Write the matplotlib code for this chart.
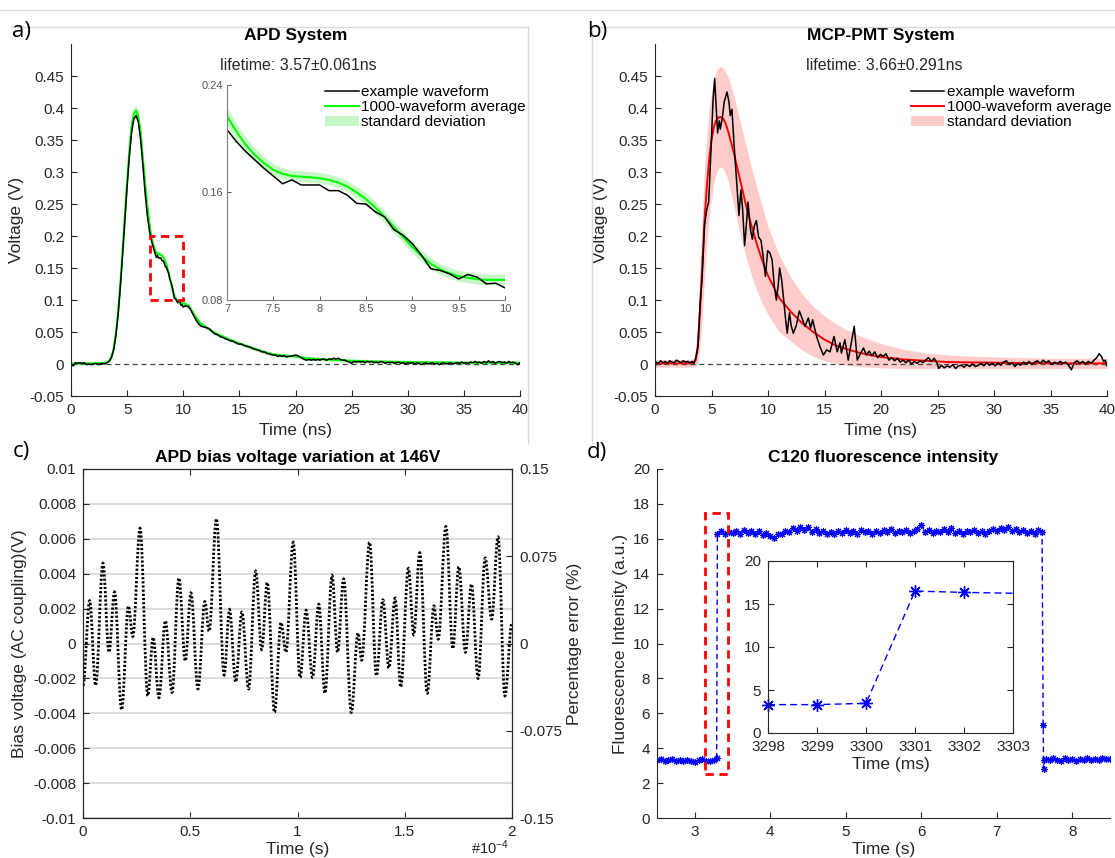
import numpy as np
import matplotlib
matplotlib.use("Agg")
import matplotlib.pyplot as plt
from matplotlib.path import Path
from matplotlib.patches import PathPatch, Rectangle, Patch
from matplotlib.lines import Line2D

#%% data

# a) APD system, example waveform (ns, V)
t_ex_a = np.round(np.concatenate([np.arange(0, 6.9, 0.2), np.arange(7.0, 10.05, 0.1), np.arange(10.2, 40.05, 0.2)]), 2)
v_ex_a = [0.000, -0.003, 0.002, 0.001, 0.002, 0.001, 0.002, -0.001, 0.000, -0.001,
          0.000, 0.001, -0.001, 0.000, 0.001, 0.000, 0.002, 0.004, 0.010, 0.022,
          0.045, 0.078, 0.122, 0.172, 0.226, 0.278, 0.325, 0.362, 0.383, 0.388,
          0.378, 0.351, 0.311, 0.268, 0.232,
          # 7.0 - 10.0
          0.2068, 0.198, 0.1906, 0.1843, 0.178, 0.1723, 0.1665, 0.1694, 0.1656, 0.1656,
          0.1656, 0.1614, 0.1614, 0.158, 0.1519, 0.1514, 0.1456, 0.1419, 0.1324, 0.1282,
          0.1219, 0.1132, 0.1032, 0.102, 0.0995, 0.0957, 0.099, 0.097, 0.092, 0.0925, 0.089,
          # 10.2 - 40.0
          0.091, 0.090, 0.087, 0.080, 0.073, 0.067, 0.062, 0.059, 0.058, 0.057,
          0.056, 0.054, 0.050, 0.047, 0.046, 0.044, 0.042, 0.041, 0.039, 0.038,
          0.036, 0.036, 0.034, 0.032, 0.031, 0.031, 0.029, 0.028, 0.027, 0.026,
          0.024, 0.023, 0.022, 0.021, 0.019, 0.019, 0.017, 0.016, 0.015, 0.014,
          0.014, 0.012, 0.013, 0.012, 0.013, 0.011, 0.012, 0.012, 0.013, 0.014,
          0.013, 0.011, 0.009, 0.007, 0.006, 0.007, 0.006, 0.007, 0.006, 0.007,
          0.006, 0.008, 0.007, 0.006, 0.008, 0.007, 0.009, 0.008, 0.009, 0.007,
          0.006, 0.006, 0.004, 0.003, 0.001, 0.004, 0.003, 0.004, 0.003, 0.004,
          0.002, 0.004, 0.003, 0.004, 0.002, 0.003, 0.002, 0.004, 0.003, 0.001,
          0.003, 0.002, 0.003, 0.001, 0.002, 0.003, 0.001, 0.002, 0.000, 0.002,
          0.001, 0.002, 0.000, 0.002, 0.001, -0.001, 0.001, 0.002, 0.000, 0.001,
          0.002, 0.000, 0.001, -0.001, 0.001, 0.002, 0.000, 0.001, 0.002, 0.000,
          0.001, 0.002, 0.001, 0.003, 0.001, 0.002, 0.001, 0.003, 0.002, 0.004,
          0.002, 0.003, 0.001, 0.004, 0.002, 0.005, 0.002, 0.004, 0.001, 0.003,
          0.004, 0.002, 0.003, 0.001, 0.004, 0.002, 0.003, 0.001, -0.001, 0.002]

# a) 1000-waveform average and its standard deviation
t_avg_a = np.round(np.concatenate([[0, 1, 2, 3], np.arange(3.2, 6.9, 0.2), np.arange(7.0, 10.05, 0.1),
                                   [10.5, 11, 11.5, 12, 12.5, 13, 14, 15, 16, 17, 18, 19, 20,
                                    21, 22, 23, 24, 25, 27, 30, 35, 40]]), 2)
v_avg_a = [0.001, 0.001, 0.001, 0.002,
           0.003, 0.005, 0.011, 0.024, 0.047, 0.081, 0.126, 0.177, 0.232, 0.285,
           0.333, 0.371, 0.392, 0.396, 0.387, 0.361, 0.322, 0.282, 0.246,
           0.2168, 0.2055, 0.1956, 0.188, 0.1818, 0.1768, 0.1739, 0.1723, 0.1718, 0.1713,
           0.1706, 0.1694, 0.1674, 0.1644, 0.160, 0.155, 0.1489, 0.1419, 0.1344, 0.1269,
           0.1194, 0.1127, 0.107, 0.1027, 0.100, 0.0977, 0.0965, 0.0955, 0.095, 0.095, 0.095,
           0.091, 0.076, 0.064, 0.058, 0.052, 0.047, 0.039, 0.032, 0.026, 0.020, 0.015,
           0.013, 0.012, 0.009, 0.008, 0.007, 0.006, 0.005, 0.004, 0.003, 0.002, 0.002]
std_a = [0.002, 0.002, 0.002, 0.002,
         0.002, 0.002, 0.003, 0.003, 0.004, 0.005, 0.006, 0.007, 0.008, 0.008,
         0.009, 0.009, 0.009, 0.009, 0.009, 0.009, 0.009, 0.008, 0.008,
         0.007, 0.0065, 0.006, 0.0055, 0.005, 0.0045, 0.0042, 0.004, 0.004, 0.004,
         0.004, 0.004, 0.004, 0.004, 0.0042, 0.0044, 0.0046, 0.0046, 0.0046, 0.0045,
         0.0044, 0.0043, 0.0042, 0.004, 0.004, 0.004, 0.004, 0.004, 0.004, 0.004, 0.004,
         0.004, 0.004, 0.003, 0.003, 0.003, 0.003, 0.003, 0.003, 0.003, 0.003, 0.003,
         0.003, 0.003, 0.003, 0.003, 0.003, 0.003, 0.003, 0.003, 0.003, 0.003, 0.003]

# b) MCP-PMT system, example waveform (ns, V)
t_ex_b = [0.0, 0.1, 0.3, 0.5, 0.7, 0.9, 1.1, 1.3, 1.5, 1.7, 1.9, 2.1, 2.3, 2.5, 2.7, 2.9, 3.1, 3.3, 3.45,
          3.63, 3.8, 4.0, 4.18, 4.38, 4.6, 4.75, 4.95, 5.13, 5.28, 5.42, 5.54, 5.69, 5.78, 5.96,
          6.13, 6.37, 6.54, 6.66, 6.81, 6.96, 7.14, 7.31, 7.43, 7.6, 7.75, 7.93, 8.08, 8.23,
          8.44, 8.61, 8.79, 8.97, 9.17, 9.38, 9.56, 9.77, 9.97, 10.15, 10.36, 10.56, 10.74,
          10.89, 11.03, 11.21, 11.39, 11.56, 11.7, 11.9, 12.05, 12.24, 12.5, 12.77, 13.07,
          13.27, 13.57, 13.77, 13.95, 14.3, 14.6, 14.9, 15.19, 15.49, 15.84, 16.13, 16.37,
          16.5, 16.8, 17.1, 17.63, 17.9,
          18.2, 18.45, 18.7, 18.95, 19.2, 19.45, 19.7, 19.95, 20.2, 20.45, 20.7, 20.95,
          21.2, 21.45, 21.7, 21.95, 22.2, 22.45, 22.7, 22.95, 23.2, 23.45, 23.7, 23.95,
          24.2, 24.45, 24.7, 24.95, 25.1, 25.35, 25.6, 25.85, 26.1, 26.35, 26.6, 26.85,
          27.1, 27.35, 27.6, 27.85, 28.1, 28.35, 28.6, 28.85, 29.1, 29.35, 29.6, 29.85,
          30.1, 30.35, 30.6, 30.85, 31.1, 31.35, 31.6, 31.85, 32.1, 32.35, 32.6, 32.85,
          33.1, 33.35, 33.6, 33.85, 34.1, 34.35, 34.6, 34.85, 35.1, 35.35, 35.6, 35.85,
          36.1, 36.35, 36.6, 36.85, 37.1, 37.35, 37.6, 37.85, 38.1, 38.35, 38.6, 38.85,
          39.1, 39.3, 39.5, 39.7, 39.85, 40.0]
v_ex_b = [-0.006, 0.003, 0.001, 0.005, 0.002, 0.004, 0.001, 0.005, 0.003, 0.002, 0.006, 0.004,
          0.002, 0.005, 0.003, 0.004, 0.002, 0.004, 0.001,
          0.011, 0.026, 0.095, 0.137, 0.216, 0.243, 0.253, 0.332, 0.41, 0.446, 0.40, 0.361,
          0.38, 0.367, 0.385, 0.41, 0.425, 0.41, 0.388, 0.398, 0.353, 0.306, 0.264, 0.232,
          0.272, 0.243, 0.185, 0.216, 0.253, 0.211, 0.195, 0.216, 0.224, 0.198, 0.193, 0.169,
          0.137, 0.177, 0.174, 0.163, 0.121, 0.10, 0.121, 0.150, 0.131, 0.10, 0.069, 0.048,
          0.08, 0.06, 0.048, 0.06, 0.083, 0.069, 0.059, 0.072, 0.056, 0.069, 0.043, 0.027,
          0.014, 0.022, 0.019, 0.043, 0.019, 0.033, 0.017, 0.038, 0.006, 0.059, 0.006,
          0.017, 0.025, 0.014, 0.020, 0.013, 0.019, 0.010, 0.015, 0.012, 0.016, 0.006, 0.010,
          0.005, 0.009, 0.003, 0.006, 0.002, 0.006, 0.000, 0.004, 0.001, 0.005, 0.002, 0.006,
          0.010, 0.004, 0.009, 0.002, -0.007, -0.002, -0.006, -0.003, -0.005, -0.001, -0.007, -0.003,
          -0.002, -0.005, -0.001, -0.004, 0.000, -0.004, -0.002, 0.001, -0.003, 0.002, -0.002, 0.001,
          -0.003, 0.002, -0.002, 0.003, 0.005, -0.001, 0.002, -0.004, 0.001, -0.002, 0.003, 0.000,
          0.004, -0.001, 0.003, 0.005, 0.001, 0.006, 0.002, 0.005, -0.001, 0.003, 0.000, 0.004,
          0.001, 0.003, -0.002, -0.009, 0.002, 0.005, 0.001, 0.004, 0.000, 0.004, 0.001, 0.006,
          0.010, 0.016, 0.012, 0.004, 0.006, -0.003]

# b) 1000-waveform average with standard deviation envelope
t_avg_b = [0, 1, 2, 3, 3.4, 3.6, 3.8, 4.0, 4.2, 4.4, 4.6, 4.8, 5.0, 5.2, 5.4, 5.6, 5.8, 6.0, 6.2, 6.5,
           7.0, 7.5, 8.0, 8.5, 9.0, 9.5, 10, 11, 12, 13, 14, 15, 16, 17, 18, 19, 20, 22, 24, 26, 30, 35, 40]
v_avg_b = [0.001, 0.001, 0.001, 0.001, 0.002, 0.006, 0.03, 0.09, 0.16, 0.23, 0.28, 0.32, 0.35, 0.37,
           0.38, 0.385, 0.386, 0.384, 0.378, 0.362, 0.328, 0.29, 0.252, 0.218, 0.188, 0.161, 0.138,
           0.103, 0.082, 0.064, 0.05, 0.038, 0.029, 0.023, 0.018, 0.014, 0.011, 0.007, 0.005,
           0.003, 0.002, 0.001, 0.001]
upper_b = [0.007, 0.007, 0.007, 0.007, 0.008, 0.02, 0.07, 0.15, 0.24, 0.31, 0.36, 0.40, 0.425, 0.445,
           0.457, 0.463, 0.465, 0.463, 0.458, 0.447, 0.418, 0.382, 0.345, 0.31, 0.277, 0.246, 0.215,
           0.17, 0.136, 0.11, 0.09, 0.075, 0.063, 0.053, 0.045, 0.038, 0.032, 0.023, 0.017, 0.014,
           0.011, 0.009, 0.009]
lower_b = [-0.005, -0.005, -0.005, -0.005, -0.005, -0.004, 0.0, 0.03, 0.08, 0.14, 0.19, 0.23, 0.26,
           0.283, 0.297, 0.305, 0.308, 0.306, 0.30, 0.284, 0.245, 0.205, 0.17, 0.14, 0.115, 0.094,
           0.077, 0.05, 0.036, 0.022, 0.012, 0.005, 0.001, -0.002, -0.004, -0.005, -0.006, -0.007,
           -0.007, -0.007, -0.007, -0.007, -0.007]

# c) bias voltage ripple: turning points (time in 1e-4 s, voltage in mV)
t_c = [0.000, 0.031, 0.059, 0.093, 0.121, 0.147, 0.180, 0.212, 0.232, 0.266, 0.302, 0.327, 0.354,
       0.384, 0.415, 0.447, 0.477, 0.503, 0.536, 0.568, 0.588, 0.622, 0.658, 0.683, 0.712, 0.741,
       0.772, 0.805, 0.833, 0.859, 0.893, 0.923, 0.946, 0.980, 1.012, 1.040, 1.070, 1.099, 1.128,
       1.161, 1.187, 1.215, 1.251, 1.282, 1.299, 1.336, 1.368, 1.398, 1.426, 1.455, 1.481, 1.517,
       1.542, 1.570, 1.605, 1.636, 1.656, 1.692, 1.724, 1.752, 1.783, 1.811, 1.842, 1.875, 1.905,
       1.935, 1.967, 2.000]
v_c_mv = [-2.4, 2.45, -2.4, 4.6, -0.5, 2.95, -3.8, 2.15, 0.4, 6.6, -3.0, 0.35, -3.1,
          1.3, -2.8, 3.75, -1.0, 2.9, -2.6, 2.4, 0.7, 7.15, -1.8, 1.95, -2.2, 1.8,
          -2.6, 4.15, -0.35, 3.5, -3.95, 1.2, -0.5, 5.8, -1.95, 1.9, -1.95, 2.25, -2.85,
          3.9, -0.5, 3.7, -3.95, 0.6, -0.95, 5.8, -1.85, 2.5, -1.4, 2.6, -2.5, 4.3,
          0.5, 5.2, -2.85, 2.15, 0.25, 6.7, -0.3, 4.4, -0.5, 3.4, -2.0, 4.9, 1.4,
          6.1, -3.0, 1.2]

# d) C120 fluorescence intensity (s, a.u.)
t_low1 = [2.50, 2.55, 2.60, 2.65, 2.70, 2.75, 2.80, 2.85, 2.90, 2.95, 3.00, 3.05, 3.10, 3.15, 3.20, 3.25, 3.29]
v_low1 = [3.30, 3.36, 3.25, 3.32, 3.38, 3.27, 3.33, 3.24, 3.35, 3.29, 3.22, 3.31, 3.37, 3.28, 3.26, 3.34, 3.45]
t_high = np.round(np.arange(3.30, 7.601, 0.05), 2)
v_high = [16.25, 16.45, 16.30, 16.40, 16.35, 16.45, 16.30, 16.50, 16.35, 16.42,
          16.30, 16.42, 16.20, 16.35, 16.15, 16.05, 16.25, 16.30, 16.45, 16.40,
          16.60, 16.45, 16.70, 16.50, 16.65, 16.40, 16.55, 16.35, 16.45, 16.30,
          16.40, 16.30, 16.45, 16.35, 16.50, 16.35, 16.45, 16.30, 16.48, 16.38,
          16.45, 16.30, 16.42, 16.35, 16.50, 16.40, 16.55, 16.35, 16.45, 16.40,
          16.50, 16.35, 16.45, 16.55, 16.80, 16.40, 16.50, 16.35, 16.45, 16.40,
          16.55, 16.40, 16.60, 16.35, 16.45, 16.30, 16.45, 16.38, 16.50, 16.35,
          16.42, 16.30, 16.45, 16.55, 16.45, 16.60, 16.50, 16.65, 16.45, 16.55,
          16.40, 16.50, 16.35, 16.45, 16.30, 16.50, 16.40]
t_fall = [7.615, 7.62, 7.63]
v_fall = [5.35, 2.80, 3.35]
t_low2 = [7.65, 7.70, 7.75, 7.80, 7.85, 7.90, 7.95, 8.00, 8.05, 8.10, 8.15, 8.20, 8.25, 8.30, 8.35, 8.40, 8.45, 8.50]
v_low2 = [3.40, 3.30, 3.45, 3.35, 3.28, 3.42, 3.33, 3.38, 3.26, 3.40, 3.35, 3.45, 3.30, 3.38, 3.32, 3.44, 3.36, 3.40]

# d) inset, switch-on detail (ms, a.u.)
t_zoom_d = [3298, 3299, 3300, 3301, 3302, 3303]
v_zoom_d = [3.30, 3.30, 3.45, 16.50, 16.35, 16.25]

#%% figure
plt.rcParams['font.family'] = ['Liberation Sans', 'DejaVu Sans']
plt.rcParams['mathtext.default'] = 'regular'

W, H = 1115, 858
fig = plt.figure(figsize=(W / 100, H / 100), dpi=100)
ink = '#262626'


def add_ax(left, top, right, bottom):
    return fig.add_axes([left / W, 1 - bottom / H, (right - left) / W, (bottom - top) / H])


def style(ax, box=False, size=11):
    for s in ['top', 'right']:
        ax.spines[s].set_visible(box)
    for s in ax.spines.values():
        s.set_color(ink)
        s.set_linewidth(0.8)
    ax.tick_params(direction='in', length=4, width=0.8, colors=ink, labelsize=size, pad=5,
                   top=box, right=box)


# faint frame lines left over from the screenshot
for xs, ys in [([0, W], [10, 10]), ([11, 528], [27, 27]), ([592, W], [27, 27]),
               ([528, 528], [27, 443]), ([592, 592], [27, 443])]:
    fig.add_artist(Line2D([x / W for x in xs], [1 - y / H for y in ys], color='#d9d9d9', lw=1))

volt_ticks = np.round(np.arange(-0.05, 0.451, 0.05), 2)
volt_labels = ['-0.05', '0', '0.05', '0.1', '0.15', '0.2', '0.25', '0.3', '0.35', '0.4', '0.45']

# ---- a) APD system
ax_a = add_ax(71, 44, 520, 396)
style(ax_a)
v_avg_a = np.array(v_avg_a)
std_a = np.array(std_a)
ax_a.plot([0, 40], [0, 0], color='#444444', lw=0.9, dashes=(4, 3))
ax_a.fill_between(t_avg_a, v_avg_a - std_a, v_avg_a + std_a, color='#c8f8c8', lw=0)
ax_a.plot(t_avg_a, v_avg_a, color='#00ff00', lw=1.5)
ax_a.plot(t_ex_a, v_ex_a, color='black', lw=1.1)
ax_a.add_patch(Rectangle((7, 0.1), 3, 0.1, fill=False, ec='red', lw=2, ls=(0, (3, 2)), zorder=5))
ax_a.set_xlim(0, 40)
ax_a.set_ylim(-0.05, 0.5)
ax_a.set_xticks(range(0, 41, 5))
ax_a.set_yticks(volt_ticks, volt_labels)
ax_a.set_xlabel('Time (ns)', fontsize=12.5, color=ink)
ax_a.set_ylabel('Voltage (V)', fontsize=12.5, color=ink)
ax_a.set_title('APD System', fontsize=12.5, fontweight='bold', color='black', pad=3)
ax_a.text(0.506, 0.94, 'lifetime: 3.57\u00b10.061ns', transform=ax_a.transAxes,
          ha='center', va='center', fontsize=11.5, color=ink)

ax_ai = add_ax(227, 85, 505, 300)
ax_ai.fill_between(t_avg_a, v_avg_a - std_a, v_avg_a + std_a, color='#c8f8c8', lw=0,
                   label='standard deviation')
l_avg, = ax_ai.plot(t_avg_a, v_avg_a, color='#00ff00', lw=1.5, label='1000-waveform average')
l_ex, = ax_ai.plot(t_ex_a, v_ex_a, color='black', lw=1.1, label='example waveform')
ax_ai.set_xlim(7, 10)
ax_ai.set_ylim(0.08, 0.24)
ax_ai.set_xticks([7, 7.5, 8, 8.5, 9, 9.5, 10], ['7', '7.5', '8', '8.5', '9', '9.5', '10'])
ax_ai.set_yticks([0.08, 0.16, 0.24], ['0.08', '0.16', '0.24'])
for s in ['top', 'right']:
    ax_ai.spines[s].set_visible(False)
for s in ['left', 'bottom']:
    ax_ai.spines[s].set_color('#7f7f7f')
ax_ai.tick_params(direction='in', length=3, width=0.7, colors='#555555', labelsize=8, pad=3)
ax_ai.legend(handles=[l_ex, l_avg, Patch(color='#c8f8c8', lw=0)],
             labels=['example waveform', '1000-waveform average', 'standard deviation'],
             loc='upper left', bbox_to_anchor=(0.3525, 1.0), frameon=False, fontsize=11,
             handlelength=2.2, handletextpad=0.15, labelspacing=0.08, borderpad=0, borderaxespad=0)

# ---- b) MCP-PMT system
ax_b = add_ax(655, 44, 1107, 396)
style(ax_b)
ax_b.plot([0, 40], [0, 0], color='#444444', lw=0.9, dashes=(4, 3))
ax_b.fill_between(t_avg_b, lower_b, upper_b, color='#ffcccc', lw=0)
lb_avg, = ax_b.plot(t_avg_b, v_avg_b, color='#ff0000', lw=1.4)
lb_ex, = ax_b.plot(t_ex_b, v_ex_b, color='black', lw=1.1)
ax_b.set_xlim(0, 40)
ax_b.set_ylim(-0.05, 0.5)
ax_b.set_xticks(range(0, 41, 5))
ax_b.set_yticks(volt_ticks, volt_labels)
ax_b.set_xlabel('Time (ns)', fontsize=12.5, color=ink)
ax_b.set_ylabel('Voltage (V)', fontsize=12.5, color=ink)
ax_b.set_title('MCP-PMT System', fontsize=12.5, fontweight='bold', color='black', pad=3)
ax_b.text(0.507, 0.94, 'lifetime: 3.66\u00b10.291ns', transform=ax_b.transAxes,
          ha='center', va='center', fontsize=11.5, color=ink)
ax_b.legend(handles=[lb_ex, lb_avg, Patch(color='#ffcccc', lw=0)],
            labels=['example waveform', '1000-waveform average', 'standard deviation'],
            loc='upper left', bbox_to_anchor=(0.566, 0.8835), frameon=False, fontsize=11,
            handlelength=2.2, handletextpad=0.15, labelspacing=0.08, borderpad=0, borderaxespad=0)

# ---- c) APD bias voltage ripple
ax_c = add_ax(83, 469, 512, 818)
style(ax_c, box=True)
ax_c.tick_params(right=False)
ax_c.set_axisbelow(True)
ax_c.yaxis.grid(True, color='#d9d9d9', lw=1.3)
v_c = np.array(v_c_mv) * 1e-3
verts = [(t_c[0], v_c[0])]
codes = [Path.MOVETO]
for i in range(1, len(t_c)):
    dt = t_c[i] - t_c[i - 1]
    verts += [(t_c[i - 1] + 0.364 * dt, v_c[i - 1]), (t_c[i] - 0.364 * dt, v_c[i]), (t_c[i], v_c[i])]
    codes += [Path.CURVE4] * 3
ax_c.add_patch(PathPatch(Path(verts, codes), fill=False, edgecolor='black', lw=2.0,
                         linestyle=(0, (0.8, 0.7))))
ax_c.set_xlim(0, 2)
ax_c.set_ylim(-0.01, 0.01)
ax_c.set_xticks([0, 0.5, 1, 1.5, 2], ['0', '0.5', '1', '1.5', '2'])
ax_c.set_yticks(np.round(np.arange(-0.01, 0.0101, 0.002), 3),
                ['-0.01', '-0.008', '-0.006', '-0.004', '-0.002', '0',
                 '0.002', '0.004', '0.006', '0.008', '0.01'])
ax_c.set_xlabel('Time (s)', fontsize=12.5, color=ink, labelpad=2)
ax_c.set_ylabel('Bias voltage (AC coupling)(V)', fontsize=12.5, color=ink)
ax_c.set_title('APD bias voltage variation at 146V', fontsize=12.5, fontweight='bold',
               color='black', pad=5)
ax_c.text(0.905, -0.085, '#10$^{-4}$', transform=ax_c.transAxes, fontsize=10.5, color=ink,
          va='center')
ax_c2 = ax_c.twinx()
ax_c2.set_ylim(-0.15, 0.15)
ax_c2.set_yticks([-0.15, -0.075, 0, 0.075, 0.15], ['-0.15', '-0.075', '0', '0.075', '0.15'])
ax_c2.tick_params(direction='in', length=4, width=0.8, colors=ink, labelsize=11, pad=5)
for s in ax_c2.spines.values():
    s.set_color(ink)
    s.set_linewidth(0.8)
ax_c2.set_ylabel('Percentage error (%)', fontsize=12.5, color=ink)

# ---- d) C120 fluorescence intensity
ax_d = add_ax(657, 469, 1110, 818)
style(ax_d)
t_d = np.concatenate([t_low1, t_high, t_fall, t_low2])
v_d = np.concatenate([v_low1, v_high, v_fall, v_low2])
ax_d.plot(t_d, v_d, color='blue', lw=1, dashes=(4, 2.5), marker=(8, 2, 0), ms=5, mew=0.8)
ax_d.add_patch(Rectangle((3.14, 2.5), 0.3, 15, fill=False, ec='red', lw=2, ls=(0, (3, 2)), zorder=5))
ax_d.set_xlim(2.5, 8.5)
ax_d.set_ylim(0, 20)
ax_d.set_xticks(range(3, 9))
ax_d.set_yticks(range(0, 21, 2))
ax_d.set_xlabel('Time (s)', fontsize=12.5, color=ink, labelpad=2)
ax_d.set_ylabel('Fluorescence Intensity (a.u.)', fontsize=12.5, color=ink)
ax_d.set_title('C120 fluorescence intensity', fontsize=12.5, fontweight='bold', color='black', pad=5)

ax_di = add_ax(768, 561, 1013, 733)
style(ax_di, box=True)
ax_di.plot(t_zoom_d, v_zoom_d, color='blue', lw=1, dashes=(5, 3), marker=(8, 2, 0), ms=9,
           mew=1, markevery=[0, 1, 2, 3, 4], clip_on=False)
ax_di.set_xlim(3298, 3303)
ax_di.set_ylim(0, 20)
ax_di.set_xticks(range(3298, 3304))
ax_di.set_yticks([0, 5, 10, 15, 20])
ax_di.set_xlabel('Time (ms)', fontsize=12.5, color=ink, labelpad=2)

# panel letters
for label, x, y in [('a)', 12, 31), ('b)', 587, 31), ('c)', 13, 451), ('d)', 587, 452)]:
    fig.text(x / W, 1 - y / H, label, family='Open Sans', fontsize=16, va='center', color='black')

fig.savefig('out.png', dpi=100)
